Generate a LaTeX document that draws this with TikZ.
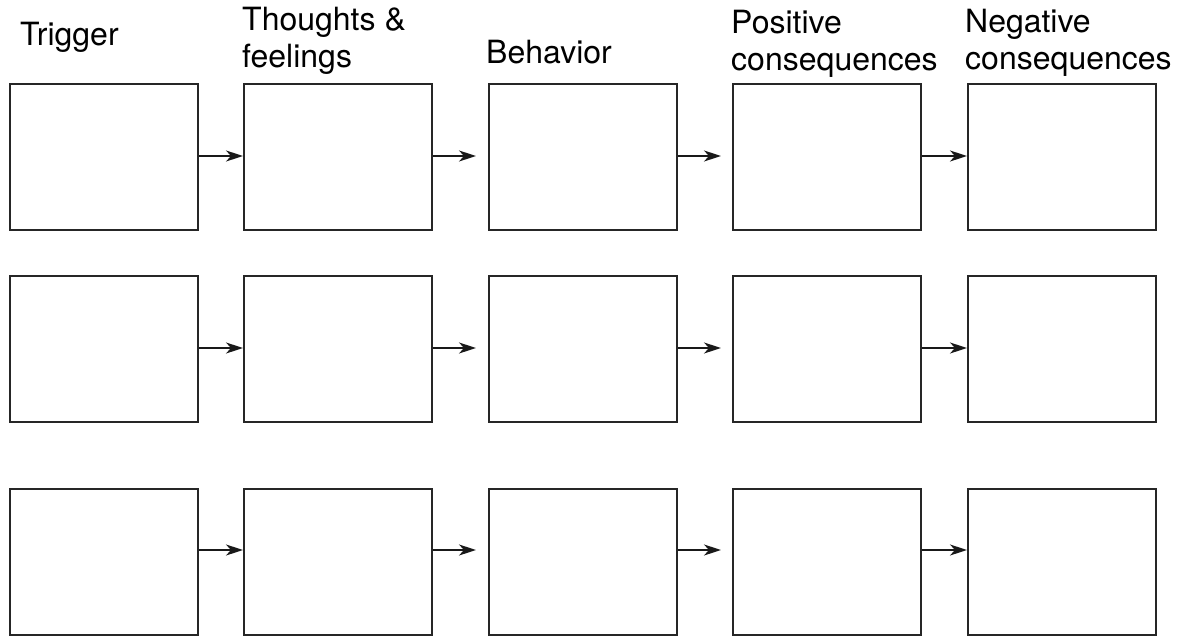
\documentclass[tikz,border=0pt]{standalone}
\usepackage{fontspec}
\setmainfont{TeX Gyre Heros}
\usetikzlibrary{arrows.meta,positioning}
\begin{document}
\begin{tikzpicture}[x=1pt,y=1pt,
  cell/.style={draw=black!85,line width=2pt,minimum width=188pt,minimum height=146pt,inner sep=0pt,anchor=north west},
  flow/.style={draw=black!90,line width=1.8pt,-{Stealth[length=17pt,width=11pt,inset=5pt]}},
  lab/.style={anchor=base west,inner sep=0pt,align=left,font=\fontsize{32}{37}\selectfont}]
\useasboundingbox (0,0) rectangle (1181,-637);
% labels (base anchor = baseline of last line)
\node[lab] (t1) at (20,-45) {Trigger};
\node[lab] (t2) at (242,-67) {Thoughts \&\\feelings};
\node[lab] (t3) at (486,-63) {Behavior};
\node[lab] (t4) at (731,-70) {Positive\\consequences};
\node[lab] (t5) at (965,-69) {Negative\\consequences};
% boxes
\foreach \r/\y in {1/83,2/275,3/488}{
  \foreach \c/\x in {1/9,2/243,3/488,4/732,5/967}{
    \node[cell] (b\r\c) at (\x,-\y) {};
  }
}
% arrows
\foreach \r/\y in {1/156,2/348,3/550}{
  \coordinate (e\r2) at (476,-\y);
  \coordinate (e\r3) at (721,-\y);
  \draw[flow] (b\r1.east |- 0,-\y) -- (b\r2.west |- 0,-\y);
  \draw[flow] (b\r2.east |- 0,-\y) -- (e\r2);
  \draw[flow] (b\r3.east |- 0,-\y) -- (e\r3);
  \draw[flow] (b\r4.east |- 0,-\y) -- (b\r5.west |- 0,-\y);
}
\end{tikzpicture}
\end{document}
